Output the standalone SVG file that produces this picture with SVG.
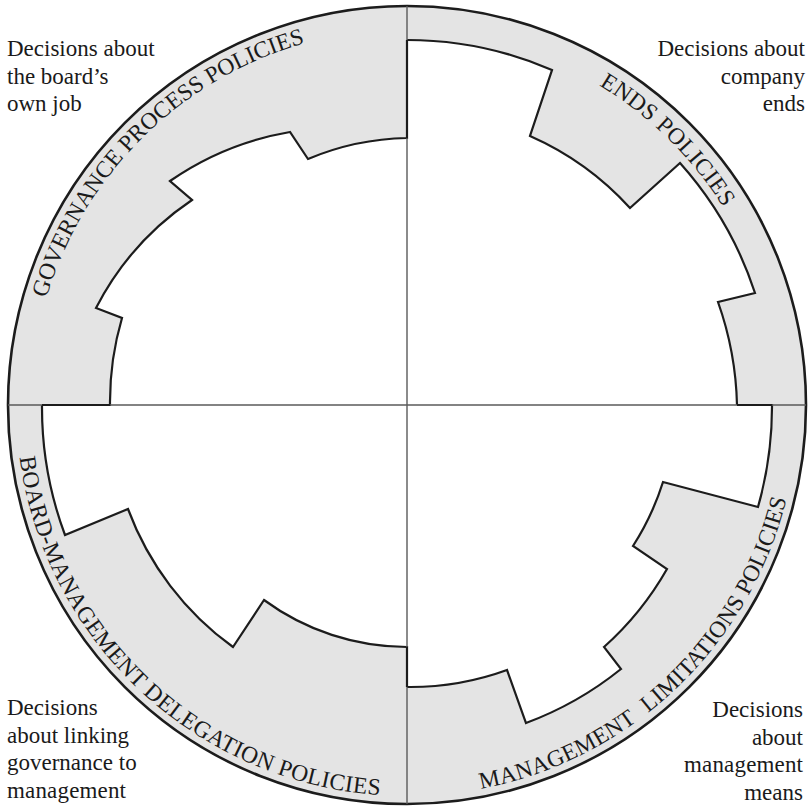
<svg xmlns="http://www.w3.org/2000/svg" width="809" height="808" viewBox="0 0 809 808">
<style>
.band{fill:#e4e4e4;stroke:none}
.edge{fill:none;stroke:#1c1c1c;stroke-width:2.2;stroke-linejoin:miter}
.outer{fill:none;stroke:#1c1c1c;stroke-width:2.6}
.div{stroke:#5a5a5a;stroke-width:1.4;fill:none}
.note{font-family:"Liberation Serif","Times New Roman",serif;font-size:23px;fill:#1a1a1a}
.arc{font-family:"Liberation Serif","Times New Roman",serif;font-size:23.5px;fill:#1a1a1a}
.r{text-anchor:end}
</style>
<defs>
<path id="pTL" d="M 46.5 298.2 A 376 376 0 0 1 504.3 41.8"/>
<path id="pTR" d="M 599.1 85.3 A 373 373 0 0 1 767.3 308.5"/>
<path id="pBL" d="M 19.5 457.4 A 391 391 0 0 0 474.9 790.1"/>
<path id="pBR" d="M 480.9 788.9 A 391 391 0 0 0 798 405"/>
</defs>
<rect width="809" height="808" fill="#ffffff"/>

<g id="governance-process">
<path class="band" d="M 8 405 A 399 399 0 0 1 407 6 L 407 138 A 267 267 0 0 0 308 159 L 290 132 A 300 300 0 0 0 170 181 L 192 200 A 290 290 0 0 0 96 308 L 122 318 A 298 298 0 0 0 110 405 Z"/>
<path class="outer" d="M 8 405 A 399 399 0 0 1 407 6"/>
<path class="edge" d="M 407 40 L 407 138 A 267 267 0 0 0 308 159 L 290 132 A 300 300 0 0 0 170 181 L 192 200 A 290 290 0 0 0 96 308 L 122 318 A 298 298 0 0 0 110 405 L 42 405"/>
<text class="arc"><textPath href="#pTL">GOVERNANCE PROCESS POLICIES</textPath></text>
<text class="note" x="7" y="56">Decisions about</text>
<text class="note" x="7" y="83.5">the board’s</text>
<text class="note" x="7" y="111">own job</text>
</g>

<g id="ends">
<path class="band" d="M 407 6 A 399 399 0 0 1 806 405 L 737 405 A 330 330 0 0 0 718 302 L 755 293 A 365 365 0 0 0 680 163 L 630 208 A 297 297 0 0 0 530 136 L 552 70 A 365 365 0 0 0 407 40 Z"/>
<path class="outer" d="M 407 6 A 399 399 0 0 1 806 405"/>
<path class="edge" d="M 737 405 A 330 330 0 0 0 718 302 L 755 293 A 365 365 0 0 0 680 163 L 630 208 A 297 297 0 0 0 530 136 L 552 70 A 365 365 0 0 0 407 40"/>
<text class="arc" letter-spacing="0.45"><textPath href="#pTR">ENDS POLICIES</textPath></text>
<text class="note r" x="805" y="56">Decisions about</text>
<text class="note r" x="805" y="83.5">company</text>
<text class="note r" x="805" y="111">ends</text>
</g>

<g id="board-management-delegation">
<path class="band" d="M 8 405 L 42 405 A 365 365 0 0 0 65 535 L 128 509 A 298 298 0 0 0 233 647 L 264 600 A 242 242 0 0 0 407 647 L 407 804 A 399 399 0 0 1 8 405 Z"/>
<path class="outer" d="M 407 804 A 399 399 0 0 1 8 405"/>
<path class="edge" d="M 42 405 A 365 365 0 0 0 65 535 L 128 509 A 298 298 0 0 0 233 647 L 264 600 A 242 242 0 0 0 407 647 L 407 687"/>
<text class="arc" letter-spacing="0.35"><textPath href="#pBL">BOARD-MANAGEMENT DELEGATION POLICIES</textPath></text>
<text class="note" x="7" y="715">Decisions</text>
<text class="note" x="7" y="742.5">about linking</text>
<text class="note" x="7" y="770">governance to</text>
<text class="note" x="7" y="797.5" textLength="119">management</text>
</g>

<g id="management-limitations">
<path class="band" d="M 407 804 L 407 687 A 282 282 0 0 0 507 670 L 526 723 A 340 340 0 0 0 621 669 L 604 647 A 310 310 0 0 0 667 569 L 633 546 A 267 267 0 0 0 663 482 L 758 507 A 366 366 0 0 0 772 405 L 806 405 A 399 399 0 0 1 407 804 Z"/>
<path class="outer" d="M 806 405 A 399 399 0 0 1 407 804"/>
<path class="edge" d="M 407 687 A 282 282 0 0 0 507 670 L 526 723 A 340 340 0 0 0 621 669 L 604 647 A 310 310 0 0 0 667 569 L 633 546 A 267 267 0 0 0 663 482 L 758 507 A 366 366 0 0 0 772 405 L 737 405"/>
<text class="arc" letter-spacing="0.18"><textPath href="#pBR">MANAGEMENT<tspan dx="8"> LIMITATIONS POLICIES</tspan></textPath></text>
<text class="note r" x="803" y="717">Decisions</text>
<text class="note r" x="803" y="744.5">about</text>
<text class="note r" x="803" y="772" textLength="119">management</text>
<text class="note r" x="803" y="799.5">means</text>
</g>

<g id="dividers">
<line class="div" x1="407" y1="6" x2="407" y2="40"/>
<line class="div" x1="407" y1="138" x2="407" y2="647"/>
<line class="div" x1="407" y1="687" x2="407" y2="804"/>
<line class="div" x1="8" y1="405" x2="42" y2="405"/>
<line class="div" x1="110" y1="405" x2="737" y2="405"/>
<line class="div" x1="772" y1="405" x2="806" y2="405"/>
</g>
</svg>
